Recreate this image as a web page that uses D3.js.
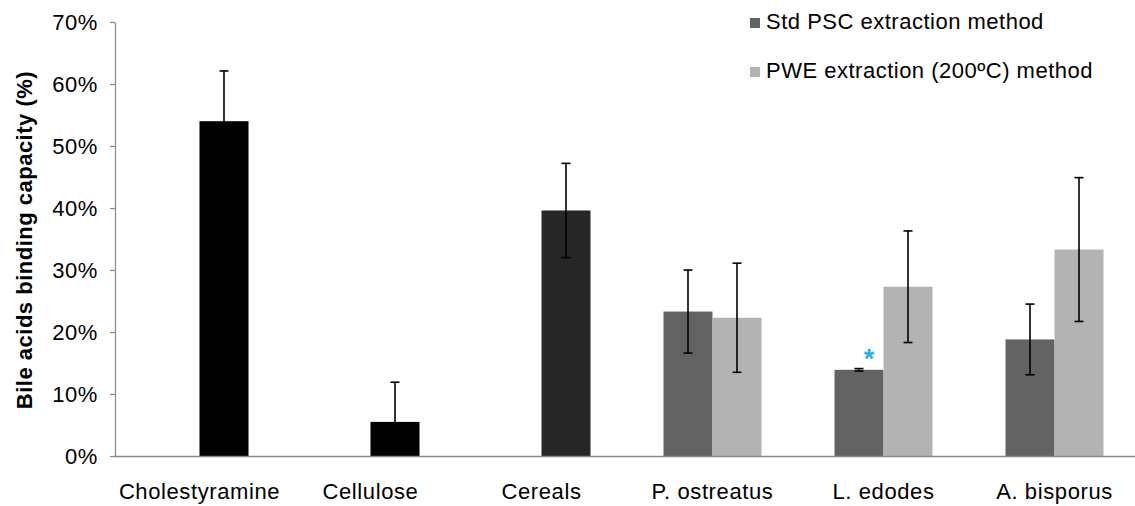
<!DOCTYPE html>
<html lang="en">
<head>
<meta charset="UTF-8">
<title>Bile acids binding capacity</title>
<style>
    body { margin: 0; background: #fff; }
    svg text { font-family: "Liberation Sans", Arial, sans-serif; fill: #000; }
</style>
</head>
<body>
<svg id="chart" width="1135" height="506"></svg>
<script src="https://d3js.org/d3.v7.min.js"></script>
<script>

// categories along the x axis
var categories = ["Cholestyramine", "Cellulose", "Cereals", "P. ostreatus", "L. edodes", "A. bisporus"];
// reference samples (single bar each)
var refValues = [0.540, 0.055, 0.396, null, null, null],
    refErrors = [0.081, 0.064, 0.076, null, null, null],
    refColors = ["#000000", "#000000", "#262626", null, null, null];
// mushroom samples, two methods
var stdValues = [null, null, null, 0.233, 0.139, 0.188],
    stdErrors = [null, null, null, 0.067, 0.002, 0.057],
    pweValues = [null, null, null, 0.223, 0.273, 0.333],
    pweErrors = [null, null, null, 0.088, 0.090, 0.116];
var seriesNames = ["Std PSC extraction method", "PWE extraction (200ºC) method"],
    seriesColors = ["#636363", "#b3b3b3"];
var yTicks = [0, 0.1, 0.2, 0.3, 0.4, 0.5, 0.6, 0.7];

var svg = d3.select("#chart"),
    fontSize = 22,
    plotL = 114, plotR = 1140, plotT = 22, plotB = 456,
    barW = 49;

var x = d3.scaleBand().domain(categories).range([plotL, plotR]).padding(0),
    x1 = d3.scaleBand().domain(["std", "pwe"])
        .range([x.bandwidth() / 2 - barW, x.bandwidth() / 2 + barW]),
    y = d3.scaleLinear().domain([0, 0.7]).range([plotB, plotT]);

// flatten into bar records
var bars = [];
categories.forEach((c, i) => {
    if (refValues[i] != null) bars.push({cat: c, slot: "pwe", v: refValues[i], e: refErrors[i], color: refColors[i]});
    if (stdValues[i] != null) bars.push({cat: c, slot: "std", v: stdValues[i], e: stdErrors[i], color: seriesColors[0], star: c == "L. edodes"});
    if (pweValues[i] != null) bars.push({cat: c, slot: "pwe", v: pweValues[i], e: pweErrors[i], color: seriesColors[1]});
});

// y axis
var yAxis = svg.append("g")
    .attr("transform", `translate(${plotL + 1},0)`)
    .call(d3.axisLeft(y).tickValues(yTicks).tickFormat(d3.format(".0%")).tickSize(5).tickSizeOuter(0).tickPadding(12));
yAxis.select(".domain").attr("stroke", "#888").attr("stroke-width", 1.2);
yAxis.selectAll(".tick line").attr("stroke", "#888").attr("stroke-width", 1.2);
yAxis.selectAll(".tick text")
    .style("font-size", fontSize + "px")
    .style("letter-spacing", "0.6px")
    .attr("dy", "0.36em");

// bars
var cx = d => x(d.cat) + x1(d.slot);
svg.append("g").selectAll("rect")
    .data(bars).enter().append("rect")
    .attr("x", cx)
    .attr("width", barW)
    .attr("y", d => y(d.v))
    .attr("height", d => y(0) - y(d.v))
    .attr("fill", d => d.color);

// error bars (lower whisker stops at the axis)
var err = svg.append("g").attr("stroke", "#000").attr("stroke-width", 1.6);
bars.forEach(d => {
    var mx = cx(d) + barW / 2,
        lo = Math.max(0, d.v - d.e),
        y0 = y(lo), y1 = y(d.v + d.e);
    err.append("line").attr("x1", mx).attr("x2", mx).attr("y1", y0).attr("y2", y1);
    err.append("line").attr("x1", mx - 4.5).attr("x2", mx + 4.5).attr("y1", y1).attr("y2", y1);
    if (lo > 0) err.append("line").attr("x1", mx - 4.5).attr("x2", mx + 4.5).attr("y1", y0).attr("y2", y0);
});

// significance mark
svg.append("g").selectAll("text")
    .data(bars.filter(d => d.star)).enter().append("text")
    .attr("x", d => cx(d) + barW / 2 + 10)
    .attr("y", d => y(d.v + d.e) - 1)
    .attr("text-anchor", "middle")
    .style("font-size", "27px")
    .style("font-weight", "bold")
    .style("fill", "#1fb0ee")
    .text("*");

// x axis
svg.append("line")
    .attr("x1", plotL).attr("x2", plotR)
    .attr("y1", plotB + 0.5).attr("y2", plotB + 0.5)
    .attr("stroke", "#888").attr("stroke-width", 1.5);
svg.append("g").selectAll("text")
    .data(categories).enter().append("text")
    .attr("x", d => x(d) + x.bandwidth() / 2)
    .attr("y", 499)
    .attr("text-anchor", "middle")
    .style("font-size", fontSize + "px")
    .style("letter-spacing", "0.6px")
    .text(d => d);

// y axis title
svg.append("text")
    .attr("transform", "translate(32,240) rotate(-90)")
    .attr("text-anchor", "middle")
    .style("font-size", fontSize + "px")
    .style("font-weight", "bold")
    .style("letter-spacing", "0.5px")
    .text("Bile acids binding capacity (%)");

// legend
var legend = svg.append("g").selectAll("g")
    .data(seriesNames).enter().append("g")
    .attr("transform", (d, i) => `translate(750,${18 + i * 49})`);
legend.append("rect").attr("width", 10).attr("height", 10).attr("fill", (d, i) => seriesColors[i]);
legend.append("text")
    .attr("x", 16).attr("y", 11)
    .style("font-size", fontSize + "px")
    .style("letter-spacing", "0.5px")
    .text(d => d);

</script>
</body>
</html>
